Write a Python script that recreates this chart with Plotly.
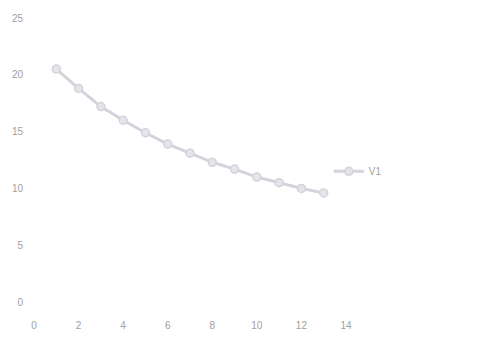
import plotly.graph_objects as go

# Series V1
x_vals = [1, 2, 3, 4, 5, 6, 7, 8, 9, 10, 11, 12, 13]
v1 = [20.5, 18.8, 17.2, 16.0, 14.9, 13.9, 13.1, 12.3, 11.7, 11.0, 10.5, 10.0, 9.6]

x_ticks = [0, 2, 4, 6, 8, 10, 12, 14]
y_ticks = [0, 5, 10, 15, 20, 25]

line_col = "#d3d3dc"
text_col = "#a0a0a0"

fig = go.Figure()
fig.add_trace(go.Scatter(
    x=x_vals, y=v1, name="V1", mode="lines+markers",
    line=dict(color=line_col, width=3),
    marker=dict(symbol="circle", size=8, color="#e4e4ea",
                line=dict(color=line_col, width=1.5)),
))

fig.update_layout(
    width=501, height=358,
    margin=dict(l=28, r=155, t=17, b=56),
    paper_bgcolor="white", plot_bgcolor="white",
    font=dict(family="Liberation Sans Narrow, Liberation Sans, sans-serif", size=10, color=text_col),
    showlegend=True,
    legend=dict(x=0.945, y=0.46, xanchor="left", yanchor="middle",
                bgcolor="rgba(0,0,0,0)", font=dict(size=10, color=text_col),
                itemwidth=30),
    xaxis=dict(range=[0, 14], tickvals=x_ticks, showgrid=False, zeroline=False,
               showline=False, ticks="outside", ticklen=14, tickcolor="rgba(0,0,0,0)"),
    yaxis=dict(range=[0, 25], tickvals=y_ticks, showgrid=False, zeroline=False,
               showline=False, ticks="outside", ticklen=8, tickcolor="rgba(0,0,0,0)"),
)

fig.write_html("out.html")
